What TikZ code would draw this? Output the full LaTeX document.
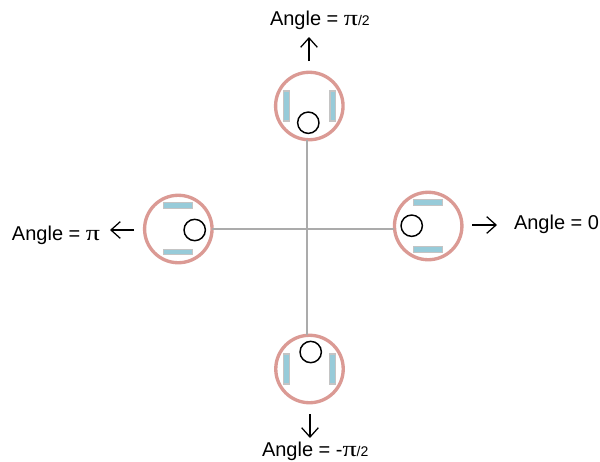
\documentclass[tikz,border=0pt]{standalone}
\usepackage{fontspec}
\usepackage{graphicx}
\setmainfont{Liberation Sans}
\newfontfamily\pifont{Liberation Serif}
\usetikzlibrary{arrows.meta}
\definecolor{ringc}{HTML}{DB9A94}
\definecolor{wheelc}{HTML}{97CBD9}
\definecolor{wheeledge}{HTML}{C4C4C4}
\definecolor{linkc}{HTML}{ABABAB}
\tikzset{
  x=0.75pt,y=-0.75pt,
  ring/.style={circle,draw=ringc,line width=2.5pt,fill=white,minimum size=50.6pt,inner sep=0pt,outer sep=0pt},
  hub/.style={circle,draw=black,line width=1.1pt,fill=white,minimum size=16pt,inner sep=0pt,outer sep=0pt},
  wheelv/.style={rectangle,draw=wheeledge,line width=0.8pt,fill=wheelc,minimum width=4.2pt,minimum height=22.5pt,inner sep=0pt},
  wheelh/.style={rectangle,draw=wheeledge,line width=0.8pt,fill=wheelc,minimum width=22pt,minimum height=4.2pt,inner sep=0pt},
  link/.style={draw=linkc,line width=1.25pt},
  dirarrow/.style={draw=black,line width=0.95pt,-{Straight Barb[length=7pt,width=12.5pt]}},
  lab/.style={anchor=base west,inner sep=0pt,outer sep=0pt,font=\fontsize{15}{18}\selectfont},
}
\newcommand{\smallfrac}[1]{{\fontsize{10.5}{12}\selectfont #1}}
\newcommand{\pisym}{\scalebox{1.4}[1.1]{\pifont π}}
\begin{document}
\begin{tikzpicture}
\useasboundingbox (0,0) rectangle (600,461);
\fill[white] (0,0) rectangle (600,461);
\coordinate (vline) at (307,0);
% robots
\node[ring] (top) at (309.3,106) {};
\node[ring] (left) at (178.3,229) {};
\node[ring] (right) at (428.2,226) {};
\node[ring] (bottom) at (309.5,369) {};
% connectors
\draw[link] (left.east) -- (left.east -| right.west);
\draw[link] (vline |- top.south) -- (vline |- bottom.north);
% wheels and hubs
\node[wheelv] (topw1) at (286.7,106) {};
\node[wheelv] (topw2) at (332.8,106) {};
\node[hub] (toph) at (308.3,122.7) {};
\node[wheelh] (leftw1) at (178,205.3) {};
\node[wheelh] (leftw2) at (178,252) {};
\node[hub] (lefth) at (194.7,230) {};
\node[wheelh] (rightw1) at (428,202.7) {};
\node[wheelh] (rightw2) at (428,249.3) {};
\node[hub] (righth) at (411.7,225.7) {};
\node[wheelv] (botw1) at (286.7,369) {};
\node[wheelv] (botw2) at (332.7,369) {};
\node[hub] (both) at (310.7,352) {};
% direction arrows
\coordinate (upS) at (309,61); \coordinate (upE) at (309,37);
\coordinate (leS) at (134,230); \coordinate (leE) at (110,230);
\coordinate (riS) at (472,225); \coordinate (riE) at (497,225);
\coordinate (doS) at (310,414); \coordinate (doE) at (310,438);
\draw[dirarrow] (upS) -- (upE);
\draw[dirarrow] (leS) -- (leE);
\draw[dirarrow] (riS) -- (riE);
\draw[dirarrow] (doS) -- (doE);
% labels
\node[lab] (ltop) at (270,25) {Angle = \pisym\smallfrac{/2}};
\node[lab] (lleft) at (12,240) {Angle = \pisym};
\node[lab] (lright) at (514,229) {Angle = 0};
\node[lab] (lbot) at (262,456) {Angle = -\pisym\smallfrac{/2}};
\end{tikzpicture}
\end{document}
